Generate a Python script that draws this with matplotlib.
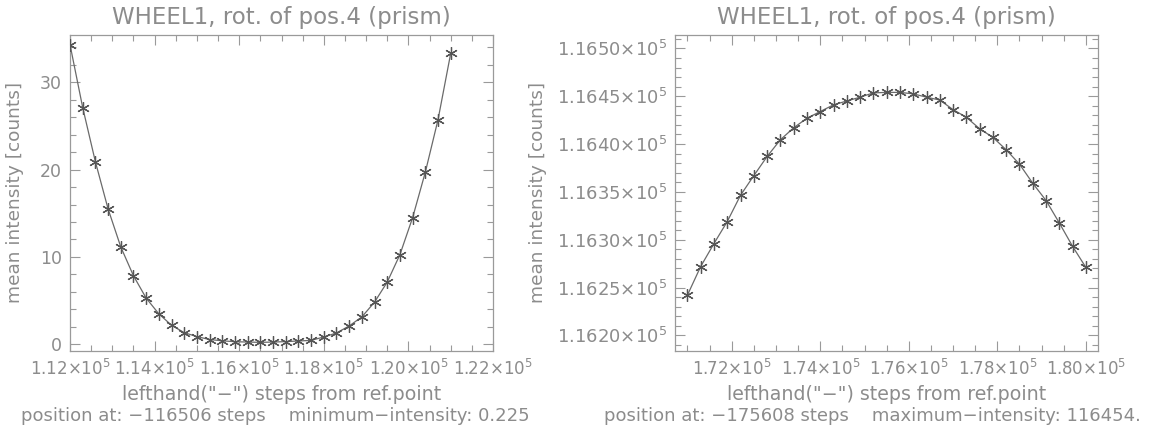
import numpy as np
import matplotlib
matplotlib.use("Agg")
import matplotlib.pyplot as plt
from matplotlib.ticker import FixedLocator, FixedFormatter, MultipleLocator

# ---- data ----
title_text = "WHEEL1, rot. of pos.4 (prism)"
xlabel_text = 'lefthand("\u2212") steps from ref.point'
ylabel_text = "mean intensity [counts]"

left_steps = [112000 + 300 * k for k in range(31)]
left_intensity = [34.3, 27.1, 20.9, 15.5, 11.15, 7.85, 5.29, 3.49, 2.18, 1.34,
                  0.88, 0.55, 0.40, 0.30, 0.26, 0.225, 0.26, 0.31, 0.38, 0.45,
                  0.84, 1.30, 2.10, 3.14, 4.83, 7.13, 10.27, 14.5, 19.7, 25.7, 33.3]
left_note = "position at: \u2212116506 steps    minimum\u2212intensity: 0.225"
left_xticks = [112000, 114000, 116000, 118000, 120000, 122000]
left_xticklabels = [r"1.12$\times$10$^5$", r"1.14$\times$10$^5$", r"1.16$\times$10$^5$",
                    r"1.18$\times$10$^5$", r"1.20$\times$10$^5$", r"1.22$\times$10$^5$"]
left_yticks = [0, 10, 20, 30]
left_yticklabels = ["0", "10", "20", "30"]

right_steps = [171000 + 300 * k for k in range(31)]
right_intensity = [116242, 116272, 116296, 116319, 116346.5, 116367, 116387, 116404.5,
                   116417, 116427, 116434, 116441, 116445, 116449, 116453.5, 116454,
                   116454, 116452.5, 116449, 116446, 116436, 116428, 116416, 116407,
                   116394, 116379, 116359, 116341, 116317.5, 116293, 116271]
right_note = "position at: \u2212175608 steps    maximum\u2212intensity: 116454."
right_xticks = [172000, 174000, 176000, 178000, 180000]
right_xticklabels = [r"1.72$\times$10$^5$", r"1.74$\times$10$^5$", r"1.76$\times$10$^5$",
                     r"1.78$\times$10$^5$", r"1.80$\times$10$^5$"]
right_yticks = [116200, 116250, 116300, 116350, 116400, 116450, 116500]
right_yticklabels = [r"1.1620$\times$10$^5$", r"1.1625$\times$10$^5$", r"1.1630$\times$10$^5$",
                     r"1.1635$\times$10$^5$", r"1.1640$\times$10$^5$", r"1.1645$\times$10$^5$",
                     r"1.1650$\times$10$^5$"]

# ---- style ----
TXT = "#8c8c8c"
AX = "#9a9a9a"
LINE = "#6a6a6a"
plt.rcParams["font.family"] = ["DejaVu Sans"]
plt.rcParams["mathtext.fontset"] = "dejavusans"
plt.rcParams["mathtext.default"] = "regular"

W, H = 1168, 430
fig = plt.figure(figsize=(W / 100, H / 100), dpi=100)
fig.patch.set_facecolor("white")


def make_axes(rect_px, x, y, xlim, ylim, xticks, xticklabels, yticks, yticklabels,
              xminor, yminor, note, note_cx, ylabel_x, ytick_size):
    l, t, r, b = rect_px
    ax = fig.add_axes([l / W, (H - b) / H, (r - l) / W, (b - t) / H])
    ax.plot(x, y, color=LINE, lw=0.9, zorder=2)
    ax.plot(x, y, linestyle="none", marker=(6, 2, 0), markersize=9,
            markeredgewidth=0.9, color="#555555", zorder=3)
    ax.set_xlim(*xlim)
    ax.set_ylim(*ylim)
    ax.xaxis.set_major_locator(FixedLocator(xticks))
    ax.xaxis.set_major_formatter(FixedFormatter(xticklabels))
    ax.yaxis.set_major_locator(FixedLocator(yticks))
    ax.yaxis.set_major_formatter(FixedFormatter(yticklabels))
    ax.xaxis.set_minor_locator(MultipleLocator(xminor))
    ax.yaxis.set_minor_locator(MultipleLocator(yminor))
    ax.tick_params(which="both", direction="in", top=True, right=True,
                   colors=AX, labelcolor=TXT, width=0.8)
    ax.tick_params(which="major", length=7, pad=6)
    ax.tick_params(which="minor", length=4)
    ax.tick_params(axis="x", labelsize=12)
    ax.tick_params(axis="y", labelsize=ytick_size)
    for s in ax.spines.values():
        s.set_color(AX)
        s.set_linewidth(0.9)
    ax.set_title(title_text, color=TXT, fontsize=16.5, pad=8)
    fig.text((l + r) / 2 / W, 1 - 395 / H, xlabel_text, color=TXT, fontsize=13.7,
             ha="center", va="center")
    fig.text(note_cx / W, 1 - 416 / H, note, color=TXT, fontsize=13,
             ha="center", va="center")
    ax.set_ylabel(ylabel_text, color=TXT, fontsize=13.3)
    ax.yaxis.set_label_coords(ylabel_x, 0.5)
    return ax


make_axes((70, 35, 493, 350.7), left_steps, left_intensity,
          (112000, 122000), (-0.73, 35.4), left_xticks, left_xticklabels,
          left_yticks, left_yticklabels, 500, 2, left_note, 275, -0.109, 12.5)

make_axes((675, 35, 1098.3, 350.7), right_steps, right_intensity,
          (170720, 180280), (116184, 116514), right_xticks, right_xticklabels,
          right_yticks, right_yticklabels, 500, 10, right_note, 872, -0.303, 13)

fig.savefig("out.png", dpi=100, facecolor="white")
